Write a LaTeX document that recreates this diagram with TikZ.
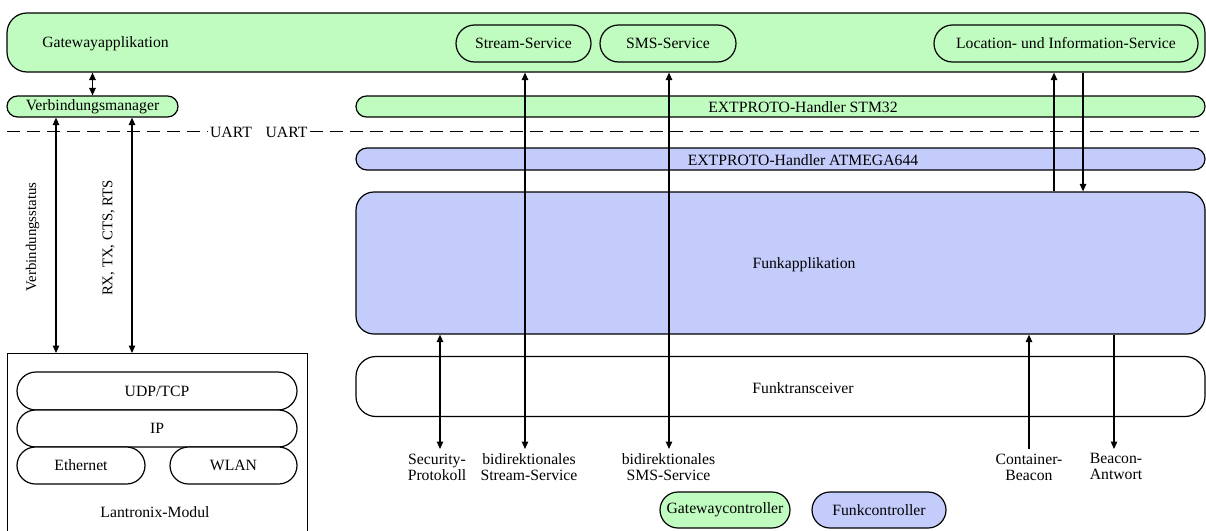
\documentclass[tikz,border=0pt]{standalone}
\usepackage{fontspec}
\setmainfont{Liberation Serif}
\usetikzlibrary{arrows.meta}
\definecolor{gwgreen}{RGB}{192,252,192}
\definecolor{fkblue}{RGB}{196,204,252}

\begin{document}
\begin{tikzpicture}[x=1pt,y=-1pt,
  font=\fontsize{15.7}{16}\selectfont,
  line width=1.2pt,
  >={Triangle[length=7.5pt,width=6.5pt]},
  gbox/.style={draw, fill=gwgreen, inner sep=0pt, rounded corners=#1},
  bbox/.style={draw, fill=fkblue, inner sep=0pt, rounded corners=#1},
  wbox/.style={draw, fill=white, inner sep=0pt, rounded corners=#1},
  txt/.style={inner sep=1pt},
  lbl/.style={align=center, inner sep=0pt, anchor=north},
  vlbl/.style={rotate=90, inner sep=0pt, font=\fontsize{14.8}{16}\selectfont},
  sepline/.style={dash pattern=on 13pt off 7pt}
]
\useasboundingbox (0,0) rectangle (1206,530);

% gateway side (STM32)
\node[gbox=20pt, minimum width=1198pt, minimum height=59pt] (gw) at (606,42.5) {};
\node[txt] (gwt) at (105.5,44) {Gatewayapplikation};
\node[gbox=18.5pt, minimum width=135pt, minimum height=37pt] (ss) at (523.5,43.5) {Stream-Service};
\node[gbox=18.5pt, minimum width=136pt, minimum height=37pt] (sms) at (668,43.5) {SMS-Service};
\node[gbox=18.5pt, minimum width=264pt, minimum height=37pt] (lis) at (1066,43.5) {Location- und Information-Service};
\node[gbox=10.5pt, minimum width=171pt, minimum height=21pt] (vm) at (92.5,106.5) {Verbindungsmanager};
\node[gbox=10.5pt, minimum width=849pt, minimum height=21pt] (stm) at (780.5,106.5) {};
\node[txt] (stmt) at (803,107.5) {EXTPROTO-Handler STM32};

% UART boundary
\node[inner sep=1.5pt] (u1) at (231,132) {UART};
\node[inner sep=1.5pt] (u2) at (286.5,132) {UART};
\coordinate (dl) at (7,131.5);
\coordinate (dr) at (1199,131.5);
\draw[sepline] (dl) -- (dl -| u1.west);
\draw[sepline] (u2.east |- dr) -- (dr);

% radio side (ATMEGA644)
\node[bbox=11pt, minimum width=849pt, minimum height=22pt] (atm) at (780.5,159) {};
\node[txt] (atmt) at (803,160) {EXTPROTO-Handler ATMEGA644};
\node[bbox=18pt, minimum width=849pt, minimum height=142pt] (fa) at (780.5,263) {};
\node[txt] (fat) at (804,265) {Funkapplikation};
\node[wbox=20pt, minimum width=849pt, minimum height=60pt] (ft) at (780.5,386.5) {};
\node[txt] (ftt) at (803,388) {Funktransceiver};

% Lantronix module
\node[draw, fill=white, inner sep=0pt, minimum width=300pt, minimum height=185pt, anchor=north west] (lan) at (7,353) {};
\node[wbox=19pt, minimum width=280pt, minimum height=38pt] (udp) at (157,391) {UDP/TCP};
\node[wbox=18.5pt, minimum width=280pt, minimum height=37pt] (ip) at (157,428.5) {IP};
\node[wbox=18.5pt, minimum width=128pt, minimum height=37pt] (eth) at (81,465.5) {Ethernet};
\node[wbox=18.5pt, minimum width=127pt, minimum height=37pt] (wlan) at (233.5,465.5) {WLAN};
\node[txt] (lant) at (155,512) {Lantronix-Modul};

% legend
\node[gbox=18pt, minimum width=130pt, minimum height=36pt] (gc) at (725,510) {Gatewaycontroller};
\node[bbox=18pt, minimum width=134pt, minimum height=36pt] (fc) at (879,510) {Funkcontroller};

% radio interface labels
\node[lbl] (lsec) at (437,453) {Security-\\Protokoll};
\node[lbl] (lstr) at (529,453) {bidirektionales\\Stream-Service};
\node[lbl] (lsms) at (668.5,453) {bidirektionales\\SMS-Service};
\node[lbl] (lcb) at (1029,453) {Container-\\Beacon};
\node[lbl] (lba) at (1116,453) {Beacon-\\Antwort};

% serial link labels
\node[vlbl] (lvs) at (32.5,237) {Verbindungsstatus};
\node[vlbl] (lrx) at (108.5,238) {RX, TX, CTS, RTS};

% arrow columns
\coordinate (xvs) at (56,0);
\coordinate (xrx) at (132,0);
\coordinate (xsec) at (440,0);
\coordinate (xstr) at (525,0);
\coordinate (xsms) at (669,0);
\coordinate (xcb) at (1029,0);
\coordinate (xlup) at (1054,0);
\coordinate (xldn) at (1083,0);
\coordinate (xba) at (1114,0);
\coordinate (low) at (0,449);

% connectors
\draw[<->] (vm.north) -- (vm.north |- gw.south);
\draw[<->] (xvs |- vm.south) -- (xvs |- lan.north);
\draw[<->] (xrx |- vm.south) -- (xrx |- lan.north);
\draw[<->] (xsec |- fa.south) -- (xsec |- low);
\draw[<->] (xstr |- gw.south) -- (xstr |- low);
\draw[<->] (xsms |- gw.south) -- (xsms |- low);
\draw[->] (xlup |- fa.north) -- (xlup |- gw.south);
\draw[->] (xldn |- gw.south) -- (xldn |- fa.north);
\draw[->] (xcb |- low) -- (xcb |- fa.south);
\draw[->] (xba |- fa.south) -- (xba |- low);
\end{tikzpicture}
\end{document}
